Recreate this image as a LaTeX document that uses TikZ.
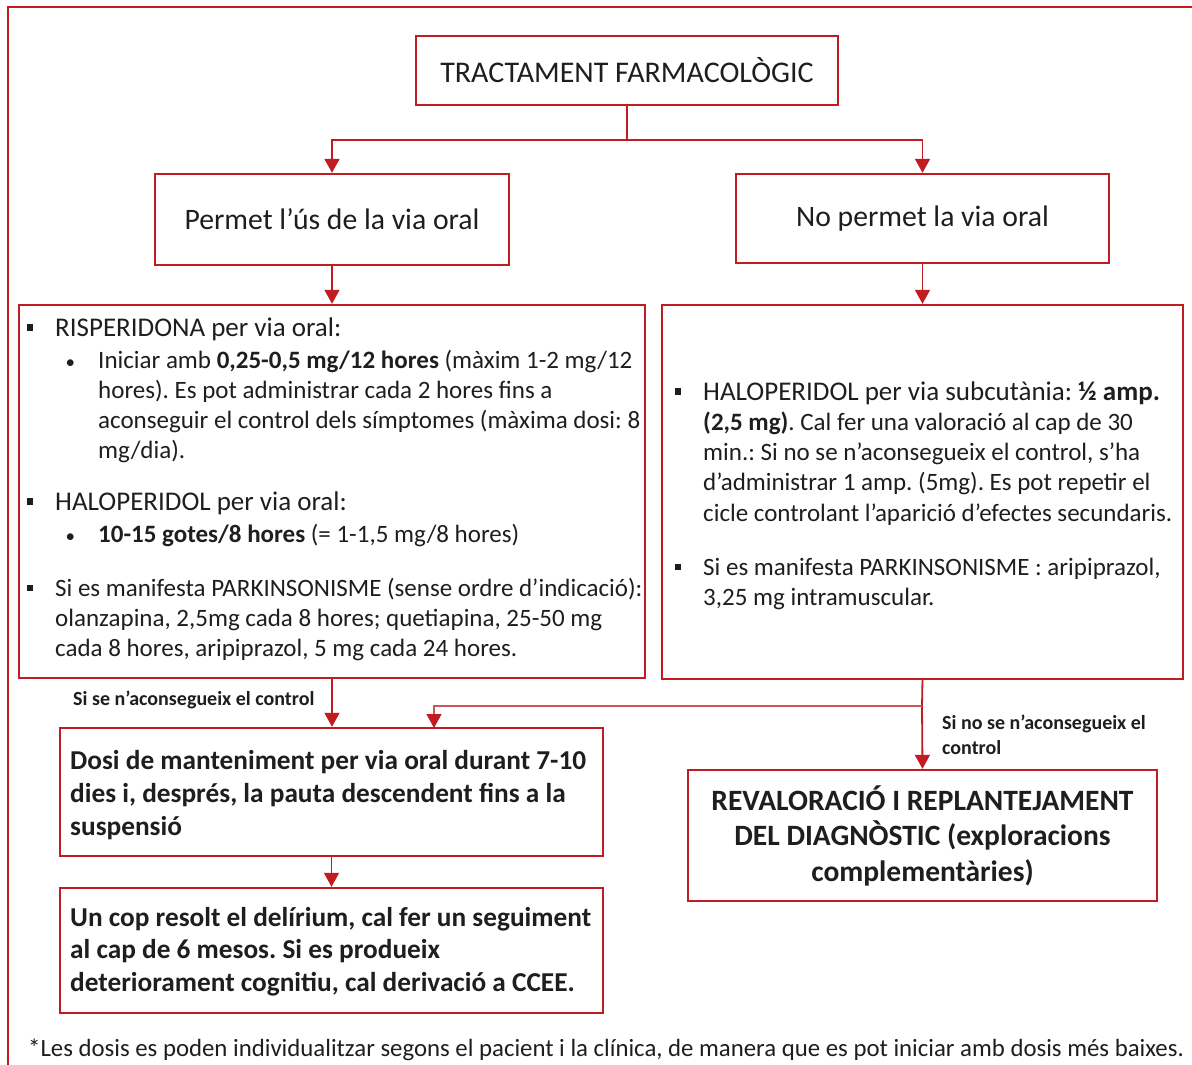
\documentclass[tikz,border=0pt]{standalone}
\usepackage{fontspec}
\setmainfont{Carlito}
\usetikzlibrary{arrows.meta}
\definecolor{myred}{RGB}{192,28,34}
\definecolor{ink}{RGB}{30,30,30}
\frenchspacing
\newcommand{\sqb}{\llap{\raisebox{0.2em}{\rule{6.5pt}{6.5pt}}\hspace{22pt}}}
\newcommand{\dotb}{\llap{{\fontsize{19}{19}\selectfont\textbullet}\hspace{23pt}}}
\begin{document}
\begin{tikzpicture}[x=1pt,y=-1pt,
  box/.style={draw=myred, line width=2.4pt, fill=white, inner sep=0pt, text=ink},
  conn/.style={draw=myred, line width=1.8pt},
  arr/.style={conn, -{Triangle[width=15pt,length=14pt]}},
  branch/.style={draw=myred!75, line width=1.3pt, -{Triangle[width=15pt,length=14pt,color=myred,fill=myred]}},
  body/.style={font=\fontsize{25}{30}\selectfont, align=left, anchor=base west, inner sep=0pt, text=ink},
  head/.style={font=\fontsize{27}{30}\selectfont, align=left, anchor=base west, inner sep=0pt, text=ink},
  boldtxt/.style={font=\fontsize{27.3}{33}\selectfont\bfseries, align=left, anchor=base west, inner sep=0pt, text=ink},
  lab/.style={font=\fontsize{20}{25}\selectfont\bfseries, inner sep=0pt, text=ink},
]
\useasboundingbox (0,0) rectangle (1192,1065);
\fill[white] (0,0) rectangle (1192,1065);
% outer frame
\draw[myred, line width=2.6pt] (8,1065) -- (8,7) -- (1192,7);

% boxes
\node[box, minimum width=422pt, minimum height=69pt, font=\fontsize{30}{36}\selectfont] (title) at (627,70.5) {TRACTAMENT FARMACOLÒGIC};
\node[box, minimum width=354pt, minimum height=91pt, font=\fontsize{29.7}{36}\selectfont] (permet) at (332,219.5) {Permet l’ús de la via oral};
\node[box, minimum width=373pt, minimum height=89pt, font=\fontsize{29.7}{36}\selectfont] (nopermet) at (922.5,218.5) {No permet la via oral};
\node[box, minimum width=626pt, minimum height=373pt] (lbox) at (332,491.5) {};
\node[box, minimum width=521pt, minimum height=374pt] (rbox) at (922.5,492) {};
\node[box, minimum width=543pt, minimum height=128pt] (dosi) at (331.5,792) {};
\node[box, minimum width=543pt, minimum height=125pt] (uncop) at (331.5,950.5) {};
\node[box, minimum width=469pt, minimum height=131pt, align=center, font=\fontsize{29.5}{35.5}\selectfont\bfseries] (reval) at (922.5,835.5) {REVALORACIÓ I REPLANTEJAMENT\\DEL DIAGNÒSTIC (exploracions\\complementàries)};

% left box text
\node[head] (r1) at (55,336) {\sqb RISPERIDONA per via oral:};
\node[body] (r2) at (98,458) {\dotb Iniciar amb \textbf{0,25-0,5 mg/12 hores} (màxim 1-2 mg/12\\hores). Es pot administrar cada 2 hores fins a\\aconseguir el control dels símptomes (màxima dosi: 8\\mg/dia).};
\node[head] (h1) at (55,510) {\sqb HALOPERIDOL per via oral:};
\node[body] (h2) at (98,542) {\dotb \textbf{10-15 gotes/8 hores} (= 1-1,5 mg/8 hores)};
\node[body] (p1) at (55,656) {\sqb Si es manifesta PARKINSONISME (sense ordre d’indicació):\\olanzapina, 2,5mg cada 8 hores; quetiapina, 25-50 mg\\cada 8 hores, aripiprazol, 5 mg cada 24 hores.};

% right box text
\node[head] (s1a) at (703,400) {\sqb HALOPERIDOL per via subcutània: \textbf{½ amp.}};
\node[body, font=\fontsize{25}{30.3}\selectfont] (s1b) at (703,521) {\textbf{(2,5 mg)}. Cal fer una valoració al cap de 30\\min.: Si no se n’aconsegueix el control, s’ha\\d’administrar 1 amp. (5mg). Es pot repetir el\\cicle controlant l’aparició d’efectes secundaris.};
\node[body] (s2) at (703,605) {\sqb Si es manifesta PARKINSONISME : aripiprazol,\\3,25 mg intramuscular.};

% bold box texts
\node[boldtxt] (dt) at (70,835) {Dosi de manteniment per via oral durant 7-10\\dies i, després, la pauta descendent fins a la\\suspensió};
\node[boldtxt, font=\fontsize{27.3}{32.5}\selectfont\bfseries] (ut) at (70,991) {Un cop resolt el delírium, cal fer un seguiment\\al cap de 6 mesos. Si es produeix\\deteriorament cognitiu, cal derivació a CCEE.};

% labels
\node[lab, anchor=west] (lab1) at (73,700) {Si se n’aconsegueix el control};
\node[lab, anchor=base west, align=left] (lab2) at (942,754) {Si no se n’aconsegueix el\\control};

% footnote
\node[font=\fontsize{24.8}{30}\selectfont, anchor=base west, inner sep=0pt, text=ink] (foot) at (28,1056) {*Les dosis es poden individualitzar segons el pacient i la clínica, de manera que es pot iniciar amb dosis més baixes.};

% connectors
\coordinate (j1) at (627,140);
\draw[conn] (title.south) -- (j1);
\draw[arr] (j1) -| (permet.north);
\draw[arr] (j1) -| (nopermet.north);
\draw[arr] (permet.south) -- (permet.south |- lbox.north);
\draw[arr] (nopermet.south) -- (nopermet.south |- rbox.north);
\draw[arr] (lbox.south) -- (lbox.south |- dosi.north);
\coordinate (j2) at (922,706);
\coordinate (dosiin) at (434,728);
\draw[conn] (rbox.south) -- (j2);
\draw[arr] (j2) -- (reval.north);
\draw[branch] (j2) -| (dosiin);
\draw[arr] (dosi.south) -- (uncop.north);
\end{tikzpicture}
\end{document}
